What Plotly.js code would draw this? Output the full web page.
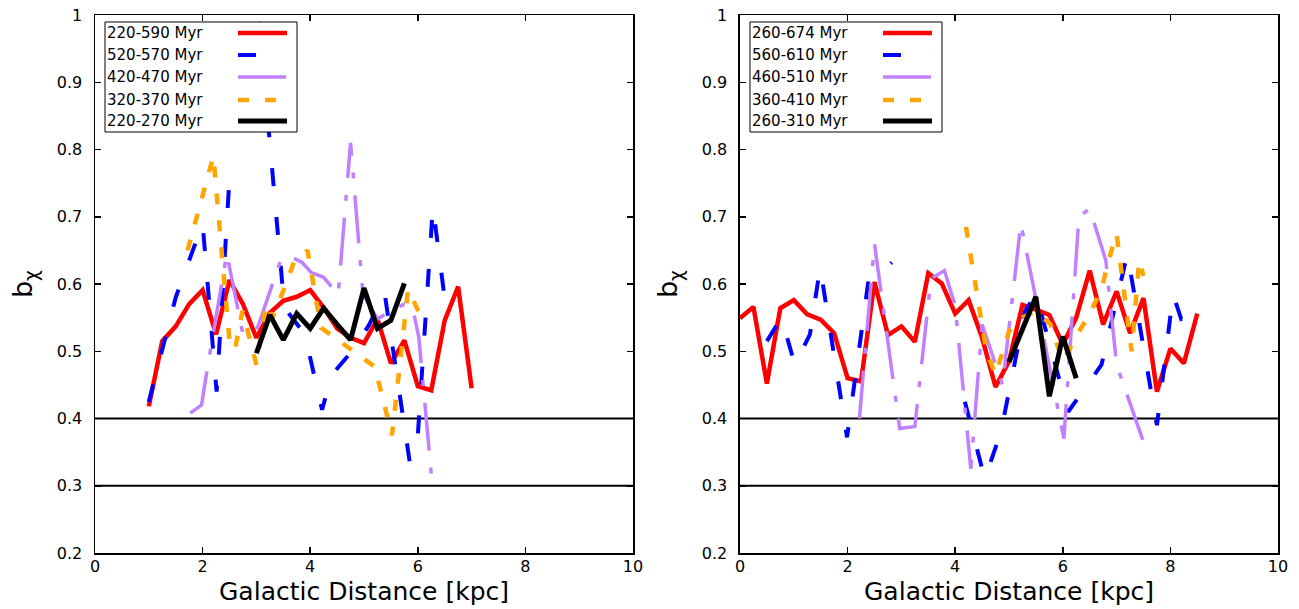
<!DOCTYPE html>
<html>
<head>
<meta charset="utf-8">
<script src="https://cdn.plot.ly/plotly-3.0.1.min.js"></script>
<style>
  html, body { margin: 0; padding: 0; background: #fff; }
  #chart { width: 1299px; height: 609px; }
</style>
</head>
<body>
<div id="chart"></div>
<script>
// ---------- left panel: windows ending at 590 Myr ----------
const leftNames = ['220-590 Myr', '520-570 Myr', '420-470 Myr', '320-370 Myr', '220-270 Myr'];

const redL_x = [1.0, 1.25, 1.5, 1.75, 2.0, 2.25, 2.5, 2.75, 3.0, 3.25, 3.5, 3.75, 4.0, 4.25, 4.5, 4.75, 5.0, 5.25, 5.5, 5.75, 6.0, 6.25, 6.5, 6.75, 7.0];
const redL_y = [0.418, 0.515, 0.537, 0.57, 0.591, 0.525, 0.606, 0.57, 0.52, 0.557, 0.575, 0.581, 0.591, 0.565, 0.534, 0.52, 0.512, 0.548, 0.482, 0.516, 0.448, 0.442, 0.546, 0.596, 0.445];

const blueL_x = [1.0, 1.25, 1.5, 1.75, 2.0, 2.26, 2.49, 2.75, 3.05, 3.52, 3.9, 4.22, 4.4, 4.83, 5.1, 5.38, 5.85, 6.0, 6.28, 6.45, 6.5, 6.75];
const blueL_y = [0.425, 0.505, 0.58, 0.635, 0.69, 0.44, 0.745, null, 0.99, 0.565, 0.525, 0.413, 0.465, 0.505, 0.54, 0.588, 0.335, 0.375, 0.715, 0.615, 0.578, 0.603];

const purpleL_x = [1.77, 1.98, 2.12, 2.45, 2.75, 3.02, 3.45, 3.6, 3.85, 4.02, 4.25, 4.52, 4.75, 4.98, 5.25, 5.5, 5.75, 5.9, 6.02, 6.27];
const purpleL_y = [0.408, 0.42, 0.49, 0.645, 0.525, 0.535, 0.635, 0.642, 0.632, 0.617, 0.61, 0.584, 0.81, 0.585, 0.548, 0.56, 0.57, 0.566, 0.52, 0.30];

const orangeL_x = [1.72, 2.2, 2.5, 2.6, 2.74, 3.0, 3.18, 3.3, 3.5, 3.7, 3.95, 4.2, 5.2, 5.52, 5.82, 6.02];
const orangeL_y = [0.65, 0.79, 0.515, 0.502, 0.56, 0.48, 0.57, 0.55, 0.59, 0.633, 0.65, 0.535, 0.477, 0.375, 0.592, 0.558];

const blackL_x = [3.0, 3.25, 3.5, 3.75, 4.0, 4.25, 4.5, 4.75, 5.0, 5.25, 5.5, 5.75];
const blackL_y = [0.497, 0.554, 0.517, 0.556, 0.534, 0.564, 0.54, 0.517, 0.594, 0.534, 0.546, 0.601];

// ---------- right panel: windows ending at 674 Myr ----------
const rightNames = ['260-674 Myr', '560-610 Myr', '460-510 Myr', '360-410 Myr', '260-310 Myr'];

const redR_x = [0, 0.25, 0.5, 0.75, 1.0, 1.25, 1.5, 1.75, 2.0, 2.25, 2.5, 2.75, 3.0, 3.25, 3.5, 3.75, 4.0, 4.25, 4.5, 4.75, 5.0, 5.25, 5.5, 5.75, 6.0, 6.25, 6.5, 6.75, 7.0, 7.25, 7.5, 7.75, 8.0, 8.25, 8.5];
const redR_y = [0.549, 0.566, 0.452, 0.564, 0.576, 0.555, 0.547, 0.527, 0.46, 0.455, 0.603, 0.524, 0.537, 0.514, 0.616, 0.601, 0.556, 0.576, 0.52, 0.447, 0.485, 0.569, 0.562, 0.554, 0.51, 0.55, 0.62, 0.54, 0.589, 0.527, 0.579, 0.44, 0.504, 0.482, 0.556];

const blueR_x = [0.5, 0.77, 1.02, 1.3, 1.49, 1.99, 2.4, 2.7, 2.82, 3.5, 4.18, 4.55, 4.85, 5.3, 5.5, 6.1, 6.72, 7.2, 7.75, 8.05, 8.2, 8.5];
const blueR_y = [0.515, 0.55, 0.48, 0.525, 0.625, 0.372, 0.612, 0.622, 0.632, null, 0.425, 0.31, 0.38, 0.56, 0.585, 0.41, 0.48, 0.645, 0.39, 0.585, 0.548, 0.557];

const purpleR_x = [2.22, 2.5, 2.97, 3.25, 3.55, 3.8, 4.0, 4.29, 4.5, 4.88, 5.22, 6.02, 6.3, 6.5, 6.8, 7.0, 7.5];
const purpleR_y = [0.40, 0.66, 0.385, 0.388, 0.608, 0.62, 0.568, 0.325, 0.54, 0.45, 0.69, 0.37, 0.70, 0.712, 0.635, 0.48, 0.365];

const orangeR_x = [4.2, 4.58, 4.75, 5.0, 5.25, 5.5, 5.77, 6.0, 6.25, 6.5, 6.72, 6.85, 7.0, 7.28, 7.42, 7.5];
const orangeR_y = [0.685, 0.50, 0.465, 0.53, 0.55, 0.56, 0.54, 0.485, 0.522, 0.556, 0.592, 0.635, 0.675, 0.50, 0.635, 0.612];

const blackR_x = [5.0, 5.25, 5.5, 5.75, 6.0, 6.25];
const blackR_y = [0.484, 0.532, 0.581, 0.433, 0.522, 0.46];

// reference levels and axis ticks
const refLevels = [0.4, 0.3];
const xTicks = [0, 2, 4, 6, 8, 10];
const yTicks = [0.2, 0.3, 0.4, 0.5, 0.6, 0.7, 0.8, 0.9, 1];
const yTickText = ['0.2', '0.3', '0.4', '0.5', '0.6', '0.7', '0.8', '0.9', '1'];
const xTitle = 'Galactic Distance [kpc]';

// line styles, in plotting order: red, blue, purple, orange, black
const styles = [
  { color: '#ff0000', width: 4.5, dash: 'solid' },
  { color: '#0000ff', width: 4,   dash: '18px,31px' },
  { color: '#c080ff', width: 3.5, dash: '48px,17px,6px,17px' },
  { color: '#ffa500', width: 4.5, dash: '11px,16px' },
  { color: '#000000', width: 5,   dash: 'solid' }
];

const FONT = 'DejaVu Sans, Liberation Sans, Arial, sans-serif';

function series(xs, ys, k, xa, ya, name) {
  return {
    type: 'scatter', mode: 'lines', x: xs, y: ys, name: name,
    xaxis: xa, yaxis: ya, connectgaps: false, showlegend: false,
    hoverinfo: 'skip',
    line: { color: styles[k].color, width: styles[k].width, dash: styles[k].dash }
  };
}

const traces = [
  series(redL_x, redL_y, 0, 'x', 'y', leftNames[0]),
  series(blueL_x, blueL_y, 1, 'x', 'y', leftNames[1]),
  series(purpleL_x, purpleL_y, 2, 'x', 'y', leftNames[2]),
  series(orangeL_x, orangeL_y, 3, 'x', 'y', leftNames[3]),
  series(blackL_x, blackL_y, 4, 'x', 'y', leftNames[4]),
  series(redR_x, redR_y, 0, 'x2', 'y2', rightNames[0]),
  series(blueR_x, blueR_y, 1, 'x2', 'y2', rightNames[1]),
  series(purpleR_x, purpleR_y, 2, 'x2', 'y2', rightNames[2]),
  series(orangeR_x, orangeR_y, 3, 'x2', 'y2', rightNames[3]),
  series(blackR_x, blackR_y, 4, 'x2', 'y2', rightNames[4])
];

function xAxis(domain, anchor) {
  return {
    domain: domain, anchor: anchor, range: [0, 10], autorange: false,
    tickmode: 'array', tickvals: xTicks, ticktext: xTicks.map(String),
    ticks: 'inside', ticklen: 6, tickwidth: 1.5, tickcolor: '#000',
    showline: true, linecolor: '#000', linewidth: 1.5, mirror: 'ticks',
    showgrid: false, zeroline: false, ticklabelstandoff: -2,
    tickfont: { family: FONT, size: 16, color: '#000' },
    fixedrange: true
  };
}
function yAxis(anchor) {
  return {
    domain: [0, 1], anchor: anchor, range: [0.2, 1], autorange: false,
    tickmode: 'array', tickvals: yTicks, ticktext: yTickText,
    ticks: 'inside', ticklen: 6, tickwidth: 1.5, tickcolor: '#000',
    showline: true, linecolor: '#000', linewidth: 1.5, mirror: 'ticks',
    showgrid: false, zeroline: false, ticklabelstandoff: 8,
    tickfont: { family: FONT, size: 16, color: '#000' },
    title: { text: 'b<sub>χ</sub>', font: { family: FONT, size: 27, color: '#000' }, standoff: 16 },
    fixedrange: true
  };
}

// key boxes drawn inside each panel (text on the left, line sample on the right)
const keyBox = { x0: 0.0186, x1: 0.3755, y0: 0.7825, y1: 0.987 };
const keyRows = [0.9665, 0.9257, 0.8848, 0.8420, 0.8030];
const keySample = [0.2658, 0.3569];

const shapes = [];
const annotations = [];

[['x', 'y'], ['x2', 'y2']].forEach(function (ax) {
  refLevels.forEach(function (lv) {
    shapes.push({
      type: 'line', layer: 'below', xref: ax[0] + ' domain', yref: ax[1],
      x0: 0, x1: 1, y0: lv, y1: lv, line: { color: '#000', width: 2 }
    });
  });
  // x-axis title, sitting low against the bottom edge of the page
  annotations.push({
    xref: ax[0] + ' domain', yref: ax[1] + ' domain', x: 0.5, y: -0.1015,
    xanchor: 'center', yanchor: 'bottom', showarrow: false,
    text: xTitle, font: { family: FONT, size: 25, color: '#000' }
  });
});

[[leftNames, 'x', 'y'], [rightNames, 'x2', 'y2']].forEach(function (p) {
  const names = p[0], xr = p[1] + ' domain', yr = p[2] + ' domain';
  shapes.push({
    type: 'rect', layer: 'above', xref: xr, yref: yr,
    x0: keyBox.x0, x1: keyBox.x1, y0: keyBox.y0, y1: keyBox.y1,
    fillcolor: '#ffffff', line: { color: '#000', width: 1 }
  });
  names.forEach(function (nm, k) {
    shapes.push({
      type: 'line', layer: 'above', xref: xr, yref: yr,
      x0: keySample[0], x1: keySample[1], y0: keyRows[k], y1: keyRows[k],
      line: { color: styles[k].color, width: styles[k].width, dash: styles[k].dash }
    });
    annotations.push({
      xref: xr, yref: yr, x: keyBox.x0, y: keyRows[k],
      xanchor: 'left', yanchor: 'middle', showarrow: false,
      text: nm, font: { family: FONT, size: 15, color: '#000' }
    });
  });
});

const layout = {
  width: 1299, height: 609,
  margin: { l: 95, r: 21, t: 15, b: 56, pad: 0 },
  paper_bgcolor: '#fff', plot_bgcolor: '#fff',
  showlegend: false, hovermode: false,
  xaxis: xAxis([0, 0.4548], 'y'),
  yaxis: yAxis('x'),
  xaxis2: xAxis([0.5452, 1], 'y2'),
  yaxis2: yAxis('x2'),
  shapes: shapes,
  annotations: annotations,
  font: { family: FONT, color: '#000' }
};

Plotly.newPlot('chart', traces, layout, { displayModeBar: false, staticPlot: true });
</script>
</body>
</html>
